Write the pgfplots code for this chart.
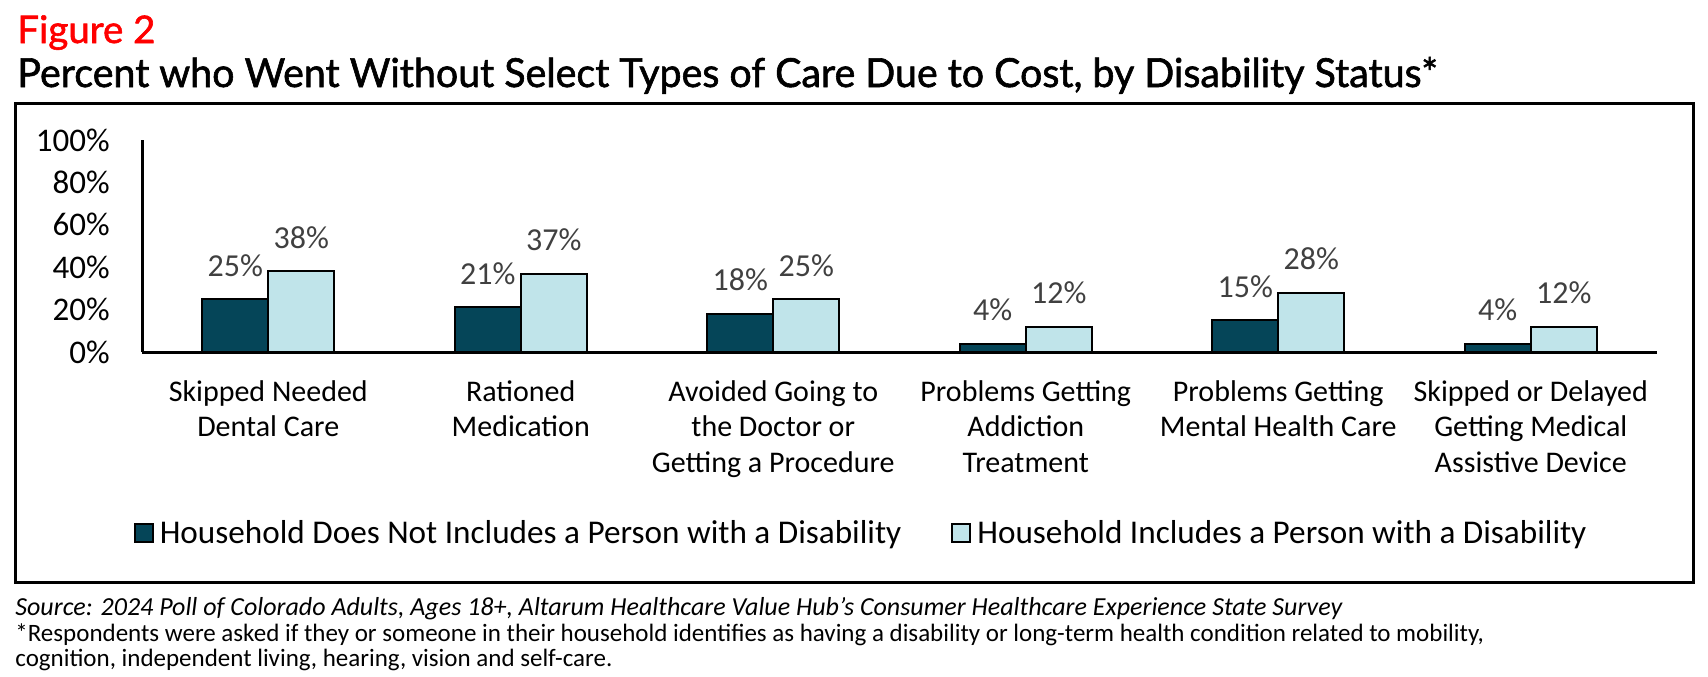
\documentclass[border=0pt]{standalone}
\usepackage{fontspec}
\setmainfont{Carlito}
\newfontfamily\titlefont{Lato}[FakeBold=1.5]
\usepackage{pgfplots}
\pgfplotsset{compat=1.18}
\definecolor{darkteal}{RGB}{5,69,88}
\definecolor{lightteal}{RGB}{192,228,234}
\definecolor{labgray}{RGB}{64,64,64}
\begin{document}
\begin{tikzpicture}
\useasboundingbox (0,0) rectangle (854pt,-338pt);
% titles
\node[anchor=base west, inner sep=0, text=red, font=\titlefont\fontsize{19}{24}\selectfont] at (8.5pt,-21.5pt) {\resizebox{69pt}{\height}{Figure 2}};
\node[anchor=base west, inner sep=0, font=\titlefont\fontsize{20}{24}\selectfont] at (8.5pt,-43.5pt) {\resizebox{710pt}{\height}{Percent who Went Without Select Types of Care Due to Cost, by Disability Status*}};
% frame
\draw[line width=1.5pt] (7.5pt,-51.5pt) rectangle (846.5pt,-291pt);
\begin{axis}[
  at={(71pt,-176pt)}, anchor=south west,
  scale only axis, width=757.5pt, height=106pt,
  xmin=-0.5, xmax=5.5, ymin=0, ymax=100,
  axis x line=bottom, axis y line=left,
  axis line style={-, line width=1.5pt, black},
  major tick length=0pt,
  ytick={0,20,40,60,80,100},
  /pgf/number format/assume math mode=true,
  yticklabel={\pgfmathprintnumber{\tick}\%},
  yticklabel style={anchor=east, inner sep=0pt, xshift=-16pt, font=\fontsize{16.5}{20}\selectfont},
  xtick={0,1,2,3,4,5},
  xticklabels={{Skipped Needed\\Dental Care},{Rationed\\Medication},{Avoided Going to\\the Doctor or\\Getting a Procedure},{Problems Getting\\Addiction\\Treatment},{Problems Getting\\Mental Health Care},{Skipped or Delayed\\Getting Medical\\Assistive Device}},
  xticklabel style={align=center, anchor=north, inner sep=0pt, yshift=-14pt, font=\fontsize{15}{17.75}\selectfont},
  ybar=0pt, bar width=33pt,
  nodes near coords={\pgfmathprintnumber{\pgfplotspointmeta}\%},
  nodes near coords style={anchor=base, inner sep=0pt, yshift=11.5pt, text=labgray, font=\fontsize{16}{20}\selectfont},
  legend columns=2,
  legend style={at={(0.476,-0.854)}, anchor=center, draw=none, fill=none, font=\fontsize{16.6}{20}\selectfont, inner sep=0pt,
    /tikz/every even column/.append style={column sep=22pt},
    nodes={inner xsep=3pt}},
  legend image code/.code={\draw[#1, line width=1pt] (0pt,-4.5pt) rectangle (9pt,4.5pt);},
  clip=false,
]
\addplot[draw=black, line width=1pt, fill=darkteal] coordinates {(0,25) (1,21) (2,18) (3,4) (4,15) (5,4)};
\addplot[draw=black, line width=1pt, fill=lightteal] coordinates {(0,38) (1,37) (2,25) (3,12) (4,28) (5,12)};
\legend{Household Does Not Includes a Person with a Disability, Household Includes a Person with a Disability}
\end{axis}
% footer
\node[anchor=base west, inner sep=0, font=\itshape\fontsize{13}{15}\selectfont] at (7.5pt,-307.5pt) {Source: 2024 Poll of Colorado Adults, Ages 18+, Altarum Healthcare Value Hub's Consumer Healthcare Experience State Survey};
\node[anchor=base west, inner sep=0, font=\fontsize{12.5}{15}\selectfont] at (7.5pt,-320.5pt) {*Respondents were asked if they or someone in their household identifies as having a disability or long-term health condition related to mobility,};
\node[anchor=base west, inner sep=0, font=\fontsize{12.5}{15}\selectfont] at (7.5pt,-333pt) {cognition, independent living, hearing, vision and self-care.};
\end{tikzpicture}
\end{document}
